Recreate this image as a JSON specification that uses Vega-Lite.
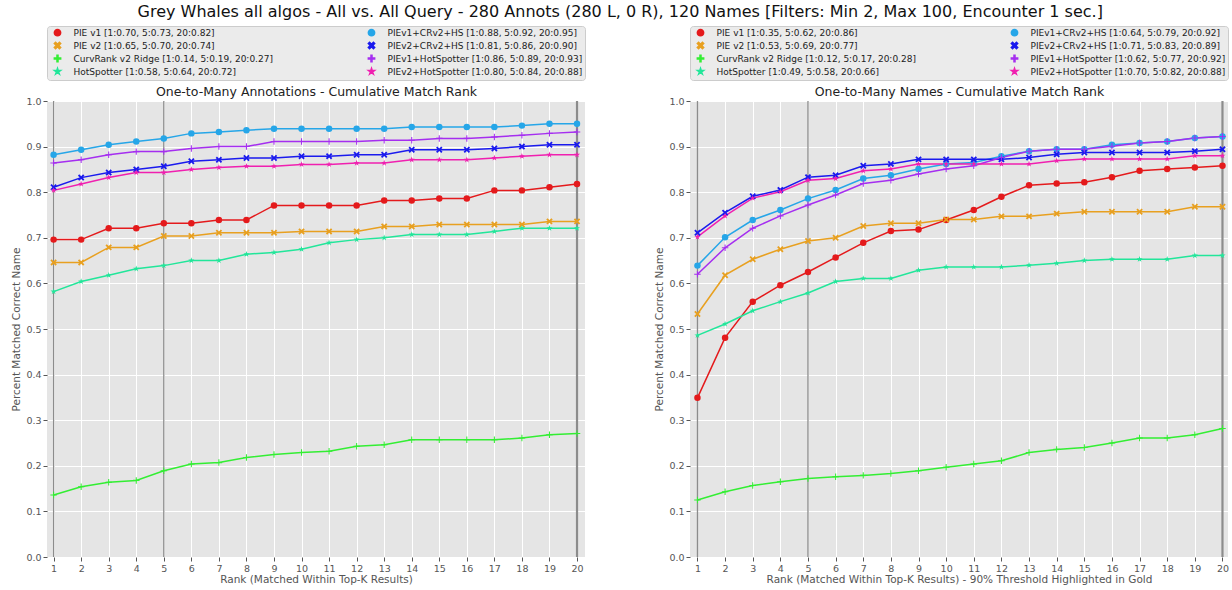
{
  "$schema": "https://vega.github.io/schema/vega-lite/v6.json",
  "padding": {"left": 11, "top": 3, "right": 0, "bottom": 2},
  "config": {
    "font": "DejaVu Sans",
    "view": {"fill": "#e5e5e5", "stroke": null},
    "axis": {"gridColor": "#ffffff", "gridWidth": 1, "domain": false, "tickColor": "#555555", "tickSize": 4, "labelColor": "#555555", "labelFontSize": 9.5, "titleColor": "#555555", "titleFontSize": 10.5, "titleFontWeight": "normal", "labelPadding": 2},
    "legend": {"orient": "top", "columns": 2, "columnPadding": 90, "rowPadding": 0, "labelFontSize": 9, "labelColor": "#222222", "symbolSize": 40, "fillColor": "#ebebeb", "strokeColor": "#cccccc", "padding": 2, "offset": 5, "labelLimit": 400, "cornerRadius": 3, "labelOffset": 11.5, "symbolOffset": 4},
    "title": {"fontWeight": "normal"}
  },
  "title": {"text": "Grey Whales all algos - All vs. All Query - 280 Annots (280 L, 0 R), 120 Names [Filters: Min 2, Max 100, Encounter 1 sec.]", "fontSize": 16, "color": "#111111", "anchor": "middle", "offset": 6},
  "datasets": {
    "vlines": [{"rank": 1}, {"rank": 5}, {"rank": 20}],
    "ann": [
      {"algo": "PIE v1", "rank": 1, "v": 0.696}, {"algo": "PIE v1", "rank": 2, "v": 0.696}, {"algo": "PIE v1", "rank": 3, "v": 0.721}, {"algo": "PIE v1", "rank": 4, "v": 0.721}, {"algo": "PIE v1", "rank": 5, "v": 0.732}, {"algo": "PIE v1", "rank": 6, "v": 0.732}, {"algo": "PIE v1", "rank": 7, "v": 0.739}, {"algo": "PIE v1", "rank": 8, "v": 0.739}, {"algo": "PIE v1", "rank": 9, "v": 0.771}, {"algo": "PIE v1", "rank": 10, "v": 0.771}, {"algo": "PIE v1", "rank": 11, "v": 0.771}, {"algo": "PIE v1", "rank": 12, "v": 0.771}, {"algo": "PIE v1", "rank": 13, "v": 0.782}, {"algo": "PIE v1", "rank": 14, "v": 0.782}, {"algo": "PIE v1", "rank": 15, "v": 0.786}, {"algo": "PIE v1", "rank": 16, "v": 0.786}, {"algo": "PIE v1", "rank": 17, "v": 0.804}, {"algo": "PIE v1", "rank": 18, "v": 0.804}, {"algo": "PIE v1", "rank": 19, "v": 0.811}, {"algo": "PIE v1", "rank": 20, "v": 0.818},
      {"algo": "PIE v2", "rank": 1, "v": 0.646}, {"algo": "PIE v2", "rank": 2, "v": 0.646}, {"algo": "PIE v2", "rank": 3, "v": 0.679}, {"algo": "PIE v2", "rank": 4, "v": 0.679}, {"algo": "PIE v2", "rank": 5, "v": 0.704}, {"algo": "PIE v2", "rank": 6, "v": 0.704}, {"algo": "PIE v2", "rank": 7, "v": 0.711}, {"algo": "PIE v2", "rank": 8, "v": 0.711}, {"algo": "PIE v2", "rank": 9, "v": 0.711}, {"algo": "PIE v2", "rank": 10, "v": 0.714}, {"algo": "PIE v2", "rank": 11, "v": 0.714}, {"algo": "PIE v2", "rank": 12, "v": 0.714}, {"algo": "PIE v2", "rank": 13, "v": 0.725}, {"algo": "PIE v2", "rank": 14, "v": 0.725}, {"algo": "PIE v2", "rank": 15, "v": 0.729}, {"algo": "PIE v2", "rank": 16, "v": 0.729}, {"algo": "PIE v2", "rank": 17, "v": 0.729}, {"algo": "PIE v2", "rank": 18, "v": 0.729}, {"algo": "PIE v2", "rank": 19, "v": 0.736}, {"algo": "PIE v2", "rank": 20, "v": 0.736},
      {"algo": "CurvRank v2 Ridge", "rank": 1, "v": 0.136}, {"algo": "CurvRank v2 Ridge", "rank": 2, "v": 0.154}, {"algo": "CurvRank v2 Ridge", "rank": 3, "v": 0.164}, {"algo": "CurvRank v2 Ridge", "rank": 4, "v": 0.168}, {"algo": "CurvRank v2 Ridge", "rank": 5, "v": 0.189}, {"algo": "CurvRank v2 Ridge", "rank": 6, "v": 0.204}, {"algo": "CurvRank v2 Ridge", "rank": 7, "v": 0.207}, {"algo": "CurvRank v2 Ridge", "rank": 8, "v": 0.218}, {"algo": "CurvRank v2 Ridge", "rank": 9, "v": 0.225}, {"algo": "CurvRank v2 Ridge", "rank": 10, "v": 0.229}, {"algo": "CurvRank v2 Ridge", "rank": 11, "v": 0.232}, {"algo": "CurvRank v2 Ridge", "rank": 12, "v": 0.243}, {"algo": "CurvRank v2 Ridge", "rank": 13, "v": 0.246}, {"algo": "CurvRank v2 Ridge", "rank": 14, "v": 0.257}, {"algo": "CurvRank v2 Ridge", "rank": 15, "v": 0.257}, {"algo": "CurvRank v2 Ridge", "rank": 16, "v": 0.257}, {"algo": "CurvRank v2 Ridge", "rank": 17, "v": 0.257}, {"algo": "CurvRank v2 Ridge", "rank": 18, "v": 0.261}, {"algo": "CurvRank v2 Ridge", "rank": 19, "v": 0.268}, {"algo": "CurvRank v2 Ridge", "rank": 20, "v": 0.271},
      {"algo": "HotSpotter", "rank": 1, "v": 0.582}, {"algo": "HotSpotter", "rank": 2, "v": 0.604}, {"algo": "HotSpotter", "rank": 3, "v": 0.618}, {"algo": "HotSpotter", "rank": 4, "v": 0.632}, {"algo": "HotSpotter", "rank": 5, "v": 0.639}, {"algo": "HotSpotter", "rank": 6, "v": 0.65}, {"algo": "HotSpotter", "rank": 7, "v": 0.65}, {"algo": "HotSpotter", "rank": 8, "v": 0.664}, {"algo": "HotSpotter", "rank": 9, "v": 0.668}, {"algo": "HotSpotter", "rank": 10, "v": 0.675}, {"algo": "HotSpotter", "rank": 11, "v": 0.689}, {"algo": "HotSpotter", "rank": 12, "v": 0.696}, {"algo": "HotSpotter", "rank": 13, "v": 0.7}, {"algo": "HotSpotter", "rank": 14, "v": 0.707}, {"algo": "HotSpotter", "rank": 15, "v": 0.707}, {"algo": "HotSpotter", "rank": 16, "v": 0.707}, {"algo": "HotSpotter", "rank": 17, "v": 0.714}, {"algo": "HotSpotter", "rank": 18, "v": 0.721}, {"algo": "HotSpotter", "rank": 19, "v": 0.721}, {"algo": "HotSpotter", "rank": 20, "v": 0.721},
      {"algo": "PIEv1+CRv2+HS", "rank": 1, "v": 0.882}, {"algo": "PIEv1+CRv2+HS", "rank": 2, "v": 0.893}, {"algo": "PIEv1+CRv2+HS", "rank": 3, "v": 0.904}, {"algo": "PIEv1+CRv2+HS", "rank": 4, "v": 0.911}, {"algo": "PIEv1+CRv2+HS", "rank": 5, "v": 0.918}, {"algo": "PIEv1+CRv2+HS", "rank": 6, "v": 0.929}, {"algo": "PIEv1+CRv2+HS", "rank": 7, "v": 0.932}, {"algo": "PIEv1+CRv2+HS", "rank": 8, "v": 0.936}, {"algo": "PIEv1+CRv2+HS", "rank": 9, "v": 0.939}, {"algo": "PIEv1+CRv2+HS", "rank": 10, "v": 0.939}, {"algo": "PIEv1+CRv2+HS", "rank": 11, "v": 0.939}, {"algo": "PIEv1+CRv2+HS", "rank": 12, "v": 0.939}, {"algo": "PIEv1+CRv2+HS", "rank": 13, "v": 0.939}, {"algo": "PIEv1+CRv2+HS", "rank": 14, "v": 0.943}, {"algo": "PIEv1+CRv2+HS", "rank": 15, "v": 0.943}, {"algo": "PIEv1+CRv2+HS", "rank": 16, "v": 0.943}, {"algo": "PIEv1+CRv2+HS", "rank": 17, "v": 0.943}, {"algo": "PIEv1+CRv2+HS", "rank": 18, "v": 0.946}, {"algo": "PIEv1+CRv2+HS", "rank": 19, "v": 0.95}, {"algo": "PIEv1+CRv2+HS", "rank": 20, "v": 0.95},
      {"algo": "PIEv2+CRv2+HS", "rank": 1, "v": 0.811}, {"algo": "PIEv2+CRv2+HS", "rank": 2, "v": 0.832}, {"algo": "PIEv2+CRv2+HS", "rank": 3, "v": 0.843}, {"algo": "PIEv2+CRv2+HS", "rank": 4, "v": 0.85}, {"algo": "PIEv2+CRv2+HS", "rank": 5, "v": 0.857}, {"algo": "PIEv2+CRv2+HS", "rank": 6, "v": 0.868}, {"algo": "PIEv2+CRv2+HS", "rank": 7, "v": 0.871}, {"algo": "PIEv2+CRv2+HS", "rank": 8, "v": 0.875}, {"algo": "PIEv2+CRv2+HS", "rank": 9, "v": 0.875}, {"algo": "PIEv2+CRv2+HS", "rank": 10, "v": 0.879}, {"algo": "PIEv2+CRv2+HS", "rank": 11, "v": 0.879}, {"algo": "PIEv2+CRv2+HS", "rank": 12, "v": 0.882}, {"algo": "PIEv2+CRv2+HS", "rank": 13, "v": 0.882}, {"algo": "PIEv2+CRv2+HS", "rank": 14, "v": 0.893}, {"algo": "PIEv2+CRv2+HS", "rank": 15, "v": 0.893}, {"algo": "PIEv2+CRv2+HS", "rank": 16, "v": 0.893}, {"algo": "PIEv2+CRv2+HS", "rank": 17, "v": 0.896}, {"algo": "PIEv2+CRv2+HS", "rank": 18, "v": 0.9}, {"algo": "PIEv2+CRv2+HS", "rank": 19, "v": 0.904}, {"algo": "PIEv2+CRv2+HS", "rank": 20, "v": 0.904},
      {"algo": "PIEv1+HotSpotter", "rank": 1, "v": 0.864}, {"algo": "PIEv1+HotSpotter", "rank": 2, "v": 0.871}, {"algo": "PIEv1+HotSpotter", "rank": 3, "v": 0.882}, {"algo": "PIEv1+HotSpotter", "rank": 4, "v": 0.889}, {"algo": "PIEv1+HotSpotter", "rank": 5, "v": 0.889}, {"algo": "PIEv1+HotSpotter", "rank": 6, "v": 0.896}, {"algo": "PIEv1+HotSpotter", "rank": 7, "v": 0.9}, {"algo": "PIEv1+HotSpotter", "rank": 8, "v": 0.9}, {"algo": "PIEv1+HotSpotter", "rank": 9, "v": 0.911}, {"algo": "PIEv1+HotSpotter", "rank": 10, "v": 0.911}, {"algo": "PIEv1+HotSpotter", "rank": 11, "v": 0.911}, {"algo": "PIEv1+HotSpotter", "rank": 12, "v": 0.911}, {"algo": "PIEv1+HotSpotter", "rank": 13, "v": 0.914}, {"algo": "PIEv1+HotSpotter", "rank": 14, "v": 0.914}, {"algo": "PIEv1+HotSpotter", "rank": 15, "v": 0.918}, {"algo": "PIEv1+HotSpotter", "rank": 16, "v": 0.918}, {"algo": "PIEv1+HotSpotter", "rank": 17, "v": 0.921}, {"algo": "PIEv1+HotSpotter", "rank": 18, "v": 0.925}, {"algo": "PIEv1+HotSpotter", "rank": 19, "v": 0.929}, {"algo": "PIEv1+HotSpotter", "rank": 20, "v": 0.932},
      {"algo": "PIEv2+HotSpotter", "rank": 1, "v": 0.804}, {"algo": "PIEv2+HotSpotter", "rank": 2, "v": 0.818}, {"algo": "PIEv2+HotSpotter", "rank": 3, "v": 0.832}, {"algo": "PIEv2+HotSpotter", "rank": 4, "v": 0.843}, {"algo": "PIEv2+HotSpotter", "rank": 5, "v": 0.843}, {"algo": "PIEv2+HotSpotter", "rank": 6, "v": 0.85}, {"algo": "PIEv2+HotSpotter", "rank": 7, "v": 0.854}, {"algo": "PIEv2+HotSpotter", "rank": 8, "v": 0.857}, {"algo": "PIEv2+HotSpotter", "rank": 9, "v": 0.857}, {"algo": "PIEv2+HotSpotter", "rank": 10, "v": 0.861}, {"algo": "PIEv2+HotSpotter", "rank": 11, "v": 0.861}, {"algo": "PIEv2+HotSpotter", "rank": 12, "v": 0.864}, {"algo": "PIEv2+HotSpotter", "rank": 13, "v": 0.864}, {"algo": "PIEv2+HotSpotter", "rank": 14, "v": 0.871}, {"algo": "PIEv2+HotSpotter", "rank": 15, "v": 0.871}, {"algo": "PIEv2+HotSpotter", "rank": 16, "v": 0.871}, {"algo": "PIEv2+HotSpotter", "rank": 17, "v": 0.875}, {"algo": "PIEv2+HotSpotter", "rank": 18, "v": 0.879}, {"algo": "PIEv2+HotSpotter", "rank": 19, "v": 0.882}, {"algo": "PIEv2+HotSpotter", "rank": 20, "v": 0.882}
    ],
    "names": [
      {"algo": "PIE v1", "rank": 1, "v": 0.349}, {"algo": "PIE v1", "rank": 2, "v": 0.481}, {"algo": "PIE v1", "rank": 3, "v": 0.56}, {"algo": "PIE v1", "rank": 4, "v": 0.596}, {"algo": "PIE v1", "rank": 5, "v": 0.625}, {"algo": "PIE v1", "rank": 6, "v": 0.657}, {"algo": "PIE v1", "rank": 7, "v": 0.689}, {"algo": "PIE v1", "rank": 8, "v": 0.715}, {"algo": "PIE v1", "rank": 9, "v": 0.718}, {"algo": "PIE v1", "rank": 10, "v": 0.739}, {"algo": "PIE v1", "rank": 11, "v": 0.761}, {"algo": "PIE v1", "rank": 12, "v": 0.79}, {"algo": "PIE v1", "rank": 13, "v": 0.815}, {"algo": "PIE v1", "rank": 14, "v": 0.819}, {"algo": "PIE v1", "rank": 15, "v": 0.822}, {"algo": "PIE v1", "rank": 16, "v": 0.833}, {"algo": "PIE v1", "rank": 17, "v": 0.847}, {"algo": "PIE v1", "rank": 18, "v": 0.851}, {"algo": "PIE v1", "rank": 19, "v": 0.854}, {"algo": "PIE v1", "rank": 20, "v": 0.858},
      {"algo": "PIE v2", "rank": 1, "v": 0.533}, {"algo": "PIE v2", "rank": 2, "v": 0.618}, {"algo": "PIE v2", "rank": 3, "v": 0.653}, {"algo": "PIE v2", "rank": 4, "v": 0.675}, {"algo": "PIE v2", "rank": 5, "v": 0.693}, {"algo": "PIE v2", "rank": 6, "v": 0.7}, {"algo": "PIE v2", "rank": 7, "v": 0.726}, {"algo": "PIE v2", "rank": 8, "v": 0.732}, {"algo": "PIE v2", "rank": 9, "v": 0.732}, {"algo": "PIE v2", "rank": 10, "v": 0.74}, {"algo": "PIE v2", "rank": 11, "v": 0.74}, {"algo": "PIE v2", "rank": 12, "v": 0.747}, {"algo": "PIE v2", "rank": 13, "v": 0.747}, {"algo": "PIE v2", "rank": 14, "v": 0.753}, {"algo": "PIE v2", "rank": 15, "v": 0.757}, {"algo": "PIE v2", "rank": 16, "v": 0.757}, {"algo": "PIE v2", "rank": 17, "v": 0.757}, {"algo": "PIE v2", "rank": 18, "v": 0.757}, {"algo": "PIE v2", "rank": 19, "v": 0.768}, {"algo": "PIE v2", "rank": 20, "v": 0.768},
      {"algo": "CurvRank v2 Ridge", "rank": 1, "v": 0.125}, {"algo": "CurvRank v2 Ridge", "rank": 2, "v": 0.143}, {"algo": "CurvRank v2 Ridge", "rank": 3, "v": 0.157}, {"algo": "CurvRank v2 Ridge", "rank": 4, "v": 0.165}, {"algo": "CurvRank v2 Ridge", "rank": 5, "v": 0.172}, {"algo": "CurvRank v2 Ridge", "rank": 6, "v": 0.176}, {"algo": "CurvRank v2 Ridge", "rank": 7, "v": 0.179}, {"algo": "CurvRank v2 Ridge", "rank": 8, "v": 0.183}, {"algo": "CurvRank v2 Ridge", "rank": 9, "v": 0.189}, {"algo": "CurvRank v2 Ridge", "rank": 10, "v": 0.197}, {"algo": "CurvRank v2 Ridge", "rank": 11, "v": 0.204}, {"algo": "CurvRank v2 Ridge", "rank": 12, "v": 0.211}, {"algo": "CurvRank v2 Ridge", "rank": 13, "v": 0.229}, {"algo": "CurvRank v2 Ridge", "rank": 14, "v": 0.236}, {"algo": "CurvRank v2 Ridge", "rank": 15, "v": 0.24}, {"algo": "CurvRank v2 Ridge", "rank": 16, "v": 0.25}, {"algo": "CurvRank v2 Ridge", "rank": 17, "v": 0.261}, {"algo": "CurvRank v2 Ridge", "rank": 18, "v": 0.261}, {"algo": "CurvRank v2 Ridge", "rank": 19, "v": 0.268}, {"algo": "CurvRank v2 Ridge", "rank": 20, "v": 0.282},
      {"algo": "HotSpotter", "rank": 1, "v": 0.486}, {"algo": "HotSpotter", "rank": 2, "v": 0.511}, {"algo": "HotSpotter", "rank": 3, "v": 0.54}, {"algo": "HotSpotter", "rank": 4, "v": 0.56}, {"algo": "HotSpotter", "rank": 5, "v": 0.579}, {"algo": "HotSpotter", "rank": 6, "v": 0.604}, {"algo": "HotSpotter", "rank": 7, "v": 0.611}, {"algo": "HotSpotter", "rank": 8, "v": 0.611}, {"algo": "HotSpotter", "rank": 9, "v": 0.629}, {"algo": "HotSpotter", "rank": 10, "v": 0.636}, {"algo": "HotSpotter", "rank": 11, "v": 0.636}, {"algo": "HotSpotter", "rank": 12, "v": 0.636}, {"algo": "HotSpotter", "rank": 13, "v": 0.64}, {"algo": "HotSpotter", "rank": 14, "v": 0.644}, {"algo": "HotSpotter", "rank": 15, "v": 0.65}, {"algo": "HotSpotter", "rank": 16, "v": 0.653}, {"algo": "HotSpotter", "rank": 17, "v": 0.653}, {"algo": "HotSpotter", "rank": 18, "v": 0.653}, {"algo": "HotSpotter", "rank": 19, "v": 0.661}, {"algo": "HotSpotter", "rank": 20, "v": 0.661},
      {"algo": "PIEv1+CRv2+HS", "rank": 1, "v": 0.639}, {"algo": "PIEv1+CRv2+HS", "rank": 2, "v": 0.701}, {"algo": "PIEv1+CRv2+HS", "rank": 3, "v": 0.739}, {"algo": "PIEv1+CRv2+HS", "rank": 4, "v": 0.761}, {"algo": "PIEv1+CRv2+HS", "rank": 5, "v": 0.786}, {"algo": "PIEv1+CRv2+HS", "rank": 6, "v": 0.805}, {"algo": "PIEv1+CRv2+HS", "rank": 7, "v": 0.83}, {"algo": "PIEv1+CRv2+HS", "rank": 8, "v": 0.837}, {"algo": "PIEv1+CRv2+HS", "rank": 9, "v": 0.851}, {"algo": "PIEv1+CRv2+HS", "rank": 10, "v": 0.862}, {"algo": "PIEv1+CRv2+HS", "rank": 11, "v": 0.865}, {"algo": "PIEv1+CRv2+HS", "rank": 12, "v": 0.879}, {"algo": "PIEv1+CRv2+HS", "rank": 13, "v": 0.89}, {"algo": "PIEv1+CRv2+HS", "rank": 14, "v": 0.894}, {"algo": "PIEv1+CRv2+HS", "rank": 15, "v": 0.894}, {"algo": "PIEv1+CRv2+HS", "rank": 16, "v": 0.904}, {"algo": "PIEv1+CRv2+HS", "rank": 17, "v": 0.908}, {"algo": "PIEv1+CRv2+HS", "rank": 18, "v": 0.911}, {"algo": "PIEv1+CRv2+HS", "rank": 19, "v": 0.919}, {"algo": "PIEv1+CRv2+HS", "rank": 20, "v": 0.922},
      {"algo": "PIEv2+CRv2+HS", "rank": 1, "v": 0.711}, {"algo": "PIEv2+CRv2+HS", "rank": 2, "v": 0.755}, {"algo": "PIEv2+CRv2+HS", "rank": 3, "v": 0.791}, {"algo": "PIEv2+CRv2+HS", "rank": 4, "v": 0.805}, {"algo": "PIEv2+CRv2+HS", "rank": 5, "v": 0.833}, {"algo": "PIEv2+CRv2+HS", "rank": 6, "v": 0.837}, {"algo": "PIEv2+CRv2+HS", "rank": 7, "v": 0.858}, {"algo": "PIEv2+CRv2+HS", "rank": 8, "v": 0.862}, {"algo": "PIEv2+CRv2+HS", "rank": 9, "v": 0.872}, {"algo": "PIEv2+CRv2+HS", "rank": 10, "v": 0.872}, {"algo": "PIEv2+CRv2+HS", "rank": 11, "v": 0.872}, {"algo": "PIEv2+CRv2+HS", "rank": 12, "v": 0.872}, {"algo": "PIEv2+CRv2+HS", "rank": 13, "v": 0.876}, {"algo": "PIEv2+CRv2+HS", "rank": 14, "v": 0.883}, {"algo": "PIEv2+CRv2+HS", "rank": 15, "v": 0.887}, {"algo": "PIEv2+CRv2+HS", "rank": 16, "v": 0.887}, {"algo": "PIEv2+CRv2+HS", "rank": 17, "v": 0.887}, {"algo": "PIEv2+CRv2+HS", "rank": 18, "v": 0.887}, {"algo": "PIEv2+CRv2+HS", "rank": 19, "v": 0.89}, {"algo": "PIEv2+CRv2+HS", "rank": 20, "v": 0.894},
      {"algo": "PIEv1+HotSpotter", "rank": 1, "v": 0.62}, {"algo": "PIEv1+HotSpotter", "rank": 2, "v": 0.678}, {"algo": "PIEv1+HotSpotter", "rank": 3, "v": 0.721}, {"algo": "PIEv1+HotSpotter", "rank": 4, "v": 0.748}, {"algo": "PIEv1+HotSpotter", "rank": 5, "v": 0.772}, {"algo": "PIEv1+HotSpotter", "rank": 6, "v": 0.794}, {"algo": "PIEv1+HotSpotter", "rank": 7, "v": 0.819}, {"algo": "PIEv1+HotSpotter", "rank": 8, "v": 0.826}, {"algo": "PIEv1+HotSpotter", "rank": 9, "v": 0.84}, {"algo": "PIEv1+HotSpotter", "rank": 10, "v": 0.851}, {"algo": "PIEv1+HotSpotter", "rank": 11, "v": 0.858}, {"algo": "PIEv1+HotSpotter", "rank": 12, "v": 0.876}, {"algo": "PIEv1+HotSpotter", "rank": 13, "v": 0.89}, {"algo": "PIEv1+HotSpotter", "rank": 14, "v": 0.894}, {"algo": "PIEv1+HotSpotter", "rank": 15, "v": 0.894}, {"algo": "PIEv1+HotSpotter", "rank": 16, "v": 0.901}, {"algo": "PIEv1+HotSpotter", "rank": 17, "v": 0.908}, {"algo": "PIEv1+HotSpotter", "rank": 18, "v": 0.911}, {"algo": "PIEv1+HotSpotter", "rank": 19, "v": 0.919}, {"algo": "PIEv1+HotSpotter", "rank": 20, "v": 0.922},
      {"algo": "PIEv2+HotSpotter", "rank": 1, "v": 0.702}, {"algo": "PIEv2+HotSpotter", "rank": 2, "v": 0.748}, {"algo": "PIEv2+HotSpotter", "rank": 3, "v": 0.787}, {"algo": "PIEv2+HotSpotter", "rank": 4, "v": 0.801}, {"algo": "PIEv2+HotSpotter", "rank": 5, "v": 0.826}, {"algo": "PIEv2+HotSpotter", "rank": 6, "v": 0.83}, {"algo": "PIEv2+HotSpotter", "rank": 7, "v": 0.847}, {"algo": "PIEv2+HotSpotter", "rank": 8, "v": 0.851}, {"algo": "PIEv2+HotSpotter", "rank": 9, "v": 0.862}, {"algo": "PIEv2+HotSpotter", "rank": 10, "v": 0.862}, {"algo": "PIEv2+HotSpotter", "rank": 11, "v": 0.862}, {"algo": "PIEv2+HotSpotter", "rank": 12, "v": 0.862}, {"algo": "PIEv2+HotSpotter", "rank": 13, "v": 0.862}, {"algo": "PIEv2+HotSpotter", "rank": 14, "v": 0.869}, {"algo": "PIEv2+HotSpotter", "rank": 15, "v": 0.873}, {"algo": "PIEv2+HotSpotter", "rank": 16, "v": 0.873}, {"algo": "PIEv2+HotSpotter", "rank": 17, "v": 0.873}, {"algo": "PIEv2+HotSpotter", "rank": 18, "v": 0.873}, {"algo": "PIEv2+HotSpotter", "rank": 19, "v": 0.88}, {"algo": "PIEv2+HotSpotter", "rank": 20, "v": 0.88}
    ]
  },
  "spacing": 68,
  "resolve": {"scale": {"color": "independent", "shape": "independent"}, "legend": {"color": "independent", "shape": "independent"}},
  "hconcat": [
    {
      "width": 538,
      "height": 456,
      "data": {"name": "ann"},
      "layer": [
        {
          "data": {"name": "vlines"},
          "transform": [{"filter": "datum.rank < 20"}],
          "mark": {"type": "rule", "color": "#8c8c8c", "strokeWidth": 1.3},
          "encoding": {"x": {"field": "rank", "type": "quantitative", "scale": {"domain": [0.76, 20.29], "nice": false, "zero": false}, "axis": {"orient": "top", "title": "One-to-Many Annotations - Cumulative Match Rank", "labels": false, "ticks": false, "domain": false, "grid": false, "titleFontSize": 12.5, "titleColor": "#222222", "titlePadding": 3}}}
        },
        {
          "data": {"name": "vlines"},
          "transform": [{"filter": "datum.rank == 20"}],
          "mark": {"type": "rule", "color": "#8c8c8c", "strokeWidth": 2.2},
          "encoding": {"x": {"field": "rank", "type": "quantitative", "scale": {"domain": [0.76, 20.29], "nice": false, "zero": false}, "axis": null}}
        },
        {
          "mark": {"type": "line", "strokeWidth": 1.5},
          "encoding": {
            "x": {"field": "rank", "type": "quantitative", "scale": {"domain": [0.76, 20.29], "nice": false, "zero": false}, "axis": {"orient": "bottom", "values": [1,2,3,4,5,6,7,8,9,10,11,12,13,14,15,16,17,18,19,20], "format": "d", "title": "Rank (Matched Within Top-K Results)", "grid": true, "titlePadding": 2}},
            "y": {"field": "v", "type": "quantitative", "scale": {"domain": [0, 1], "nice": false}, "axis": {"values": [0, 0.1, 0.2, 0.3, 0.4, 0.5, 0.6, 0.7, 0.8, 0.9, 1.0], "format": ".1f", "title": "Percent Matched Correct Name", "grid": true}},
            "color": {"field": "algo", "type": "nominal", "title": null, "scale": {"domain": ["PIE v1", "PIEv1+CRv2+HS", "PIE v2", "PIEv2+CRv2+HS", "CurvRank v2 Ridge", "PIEv1+HotSpotter", "HotSpotter", "PIEv2+HotSpotter"], "range": ["#e41a1c", "#26a6e8", "#e8a020", "#1a1aee", "#33ee33", "#a52ef0", "#22e69a", "#f020b0"]}, "legend": {"labelExpr": "datum.label == 'PIE v1' ? 'PIE v1 [1:0.70, 5:0.73, 20:0.82]' : datum.label == 'PIE v2' ? 'PIE v2 [1:0.65, 5:0.70, 20:0.74]' : datum.label == 'CurvRank v2 Ridge' ? 'CurvRank v2 Ridge [1:0.14, 5:0.19, 20:0.27]' : datum.label == 'HotSpotter' ? 'HotSpotter [1:0.58, 5:0.64, 20:0.72]' : datum.label == 'PIEv1+CRv2+HS' ? 'PIEv1+CRv2+HS [1:0.88, 5:0.92, 20:0.95]' : datum.label == 'PIEv2+CRv2+HS' ? 'PIEv2+CRv2+HS [1:0.81, 5:0.86, 20:0.90]' : datum.label == 'PIEv1+HotSpotter' ? 'PIEv1+HotSpotter [1:0.86, 5:0.89, 20:0.93]' : 'PIEv2+HotSpotter [1:0.80, 5:0.84, 20:0.88]'"}}
          }
        },
        {
          "mark": {"type": "point", "filled": true, "size": 42, "opacity": 1},
          "encoding": {
            "x": {"field": "rank", "type": "quantitative", "scale": {"domain": [0.76, 20.29], "nice": false, "zero": false}, "axis": null},
            "y": {"field": "v", "type": "quantitative", "scale": {"domain": [0, 1], "nice": false}, "axis": {"values": [0, 0.1, 0.2, 0.3, 0.4, 0.5, 0.6, 0.7, 0.8, 0.9, 1.0], "format": ".1f", "title": "Percent Matched Correct Name", "grid": true}},
            "color": {"field": "algo", "type": "nominal", "title": null, "scale": {"domain": ["PIE v1", "PIEv1+CRv2+HS", "PIE v2", "PIEv2+CRv2+HS", "CurvRank v2 Ridge", "PIEv1+HotSpotter", "HotSpotter", "PIEv2+HotSpotter"], "range": ["#e41a1c", "#26a6e8", "#e8a020", "#1a1aee", "#33ee33", "#a52ef0", "#22e69a", "#f020b0"]}, "legend": {"labelExpr": "datum.label == 'PIE v1' ? 'PIE v1 [1:0.70, 5:0.73, 20:0.82]' : datum.label == 'PIE v2' ? 'PIE v2 [1:0.65, 5:0.70, 20:0.74]' : datum.label == 'CurvRank v2 Ridge' ? 'CurvRank v2 Ridge [1:0.14, 5:0.19, 20:0.27]' : datum.label == 'HotSpotter' ? 'HotSpotter [1:0.58, 5:0.64, 20:0.72]' : datum.label == 'PIEv1+CRv2+HS' ? 'PIEv1+CRv2+HS [1:0.88, 5:0.92, 20:0.95]' : datum.label == 'PIEv2+CRv2+HS' ? 'PIEv2+CRv2+HS [1:0.81, 5:0.86, 20:0.90]' : datum.label == 'PIEv1+HotSpotter' ? 'PIEv1+HotSpotter [1:0.86, 5:0.89, 20:0.93]' : 'PIEv2+HotSpotter [1:0.80, 5:0.84, 20:0.88]'"}},
            "shape": {"field": "algo", "type": "nominal", "title": null, "scale": {"domain": ["PIE v1", "PIEv1+CRv2+HS", "PIE v2", "PIEv2+CRv2+HS", "CurvRank v2 Ridge", "PIEv1+HotSpotter", "HotSpotter", "PIEv2+HotSpotter"], "range": ["circle", "circle", "M-1,-0.6L-0.6,-1L0,-0.4L0.6,-1L1,-0.6L0.4,0L1,0.6L0.6,1L0,0.4L-0.6,1L-1,0.6L-0.4,0Z", "M-1,-0.6L-0.6,-1L0,-0.4L0.6,-1L1,-0.6L0.4,0L1,0.6L0.6,1L0,0.4L-0.6,1L-1,0.6L-0.4,0Z", "M-1,-0.16H-0.16V-1H0.16V-0.16H1V0.16H0.16V1H-0.16V0.16H-1Z", "M-1,-0.16H-0.16V-1H0.16V-0.16H1V0.16H0.16V1H-0.16V0.16H-1Z", "M0,-1L0.225,-0.309L0.951,-0.309L0.363,0.118L0.588,0.809L0,0.382L-0.588,0.809L-0.363,0.118L-0.951,-0.309L-0.225,-0.309Z", "M0,-1L0.225,-0.309L0.951,-0.309L0.363,0.118L0.588,0.809L0,0.382L-0.588,0.809L-0.363,0.118L-0.951,-0.309L-0.225,-0.309Z"]}, "legend": {"labelExpr": "datum.label == 'PIE v1' ? 'PIE v1 [1:0.70, 5:0.73, 20:0.82]' : datum.label == 'PIE v2' ? 'PIE v2 [1:0.65, 5:0.70, 20:0.74]' : datum.label == 'CurvRank v2 Ridge' ? 'CurvRank v2 Ridge [1:0.14, 5:0.19, 20:0.27]' : datum.label == 'HotSpotter' ? 'HotSpotter [1:0.58, 5:0.64, 20:0.72]' : datum.label == 'PIEv1+CRv2+HS' ? 'PIEv1+CRv2+HS [1:0.88, 5:0.92, 20:0.95]' : datum.label == 'PIEv2+CRv2+HS' ? 'PIEv2+CRv2+HS [1:0.81, 5:0.86, 20:0.90]' : datum.label == 'PIEv1+HotSpotter' ? 'PIEv1+HotSpotter [1:0.86, 5:0.89, 20:0.93]' : 'PIEv2+HotSpotter [1:0.80, 5:0.84, 20:0.88]'"}}
          }
        }
      ],
      "resolve": {"axis": {"x": "independent"}}
    },
    {
      "width": 538,
      "height": 456,
      "data": {"name": "names"},
      "layer": [
        {
          "data": {"name": "vlines"},
          "transform": [{"filter": "datum.rank < 20"}],
          "mark": {"type": "rule", "color": "#8c8c8c", "strokeWidth": 1.3},
          "encoding": {"x": {"field": "rank", "type": "quantitative", "scale": {"domain": [0.73, 20.2], "nice": false, "zero": false}, "axis": {"orient": "top", "title": "One-to-Many Names - Cumulative Match Rank", "labels": false, "ticks": false, "domain": false, "grid": false, "titleFontSize": 12.5, "titleColor": "#222222", "titlePadding": 3}}}
        },
        {
          "data": {"name": "vlines"},
          "transform": [{"filter": "datum.rank == 20"}],
          "mark": {"type": "rule", "color": "#8c8c8c", "strokeWidth": 2.2},
          "encoding": {"x": {"field": "rank", "type": "quantitative", "scale": {"domain": [0.73, 20.2], "nice": false, "zero": false}, "axis": null}}
        },
        {
          "mark": {"type": "line", "strokeWidth": 1.5},
          "encoding": {
            "x": {"field": "rank", "type": "quantitative", "scale": {"domain": [0.73, 20.2], "nice": false, "zero": false}, "axis": {"orient": "bottom", "values": [1,2,3,4,5,6,7,8,9,10,11,12,13,14,15,16,17,18,19,20], "format": "d", "title": "Rank (Matched Within Top-K Results) - 90% Threshold Highlighted in Gold", "grid": true, "titlePadding": 2}},
            "y": {"field": "v", "type": "quantitative", "scale": {"domain": [0, 1], "nice": false}, "axis": {"values": [0, 0.1, 0.2, 0.3, 0.4, 0.5, 0.6, 0.7, 0.8, 0.9, 1.0], "format": ".1f", "title": "Percent Matched Correct Name", "grid": true}},
            "color": {"field": "algo", "type": "nominal", "title": null, "scale": {"domain": ["PIE v1", "PIEv1+CRv2+HS", "PIE v2", "PIEv2+CRv2+HS", "CurvRank v2 Ridge", "PIEv1+HotSpotter", "HotSpotter", "PIEv2+HotSpotter"], "range": ["#e41a1c", "#26a6e8", "#e8a020", "#1a1aee", "#33ee33", "#a52ef0", "#22e69a", "#f020b0"]}, "legend": {"labelExpr": "datum.label == 'PIE v1' ? 'PIE v1 [1:0.35, 5:0.62, 20:0.86]' : datum.label == 'PIE v2' ? 'PIE v2 [1:0.53, 5:0.69, 20:0.77]' : datum.label == 'CurvRank v2 Ridge' ? 'CurvRank v2 Ridge [1:0.12, 5:0.17, 20:0.28]' : datum.label == 'HotSpotter' ? 'HotSpotter [1:0.49, 5:0.58, 20:0.66]' : datum.label == 'PIEv1+CRv2+HS' ? 'PIEv1+CRv2+HS [1:0.64, 5:0.79, 20:0.92]' : datum.label == 'PIEv2+CRv2+HS' ? 'PIEv2+CRv2+HS [1:0.71, 5:0.83, 20:0.89]' : datum.label == 'PIEv1+HotSpotter' ? 'PIEv1+HotSpotter [1:0.62, 5:0.77, 20:0.92]' : 'PIEv2+HotSpotter [1:0.70, 5:0.82, 20:0.88]'"}}
          }
        },
        {
          "mark": {"type": "point", "filled": true, "size": 42, "opacity": 1},
          "encoding": {
            "x": {"field": "rank", "type": "quantitative", "scale": {"domain": [0.73, 20.2], "nice": false, "zero": false}, "axis": null},
            "y": {"field": "v", "type": "quantitative", "scale": {"domain": [0, 1], "nice": false}, "axis": {"values": [0, 0.1, 0.2, 0.3, 0.4, 0.5, 0.6, 0.7, 0.8, 0.9, 1.0], "format": ".1f", "title": "Percent Matched Correct Name", "grid": true}},
            "color": {"field": "algo", "type": "nominal", "title": null, "scale": {"domain": ["PIE v1", "PIEv1+CRv2+HS", "PIE v2", "PIEv2+CRv2+HS", "CurvRank v2 Ridge", "PIEv1+HotSpotter", "HotSpotter", "PIEv2+HotSpotter"], "range": ["#e41a1c", "#26a6e8", "#e8a020", "#1a1aee", "#33ee33", "#a52ef0", "#22e69a", "#f020b0"]}, "legend": {"labelExpr": "datum.label == 'PIE v1' ? 'PIE v1 [1:0.35, 5:0.62, 20:0.86]' : datum.label == 'PIE v2' ? 'PIE v2 [1:0.53, 5:0.69, 20:0.77]' : datum.label == 'CurvRank v2 Ridge' ? 'CurvRank v2 Ridge [1:0.12, 5:0.17, 20:0.28]' : datum.label == 'HotSpotter' ? 'HotSpotter [1:0.49, 5:0.58, 20:0.66]' : datum.label == 'PIEv1+CRv2+HS' ? 'PIEv1+CRv2+HS [1:0.64, 5:0.79, 20:0.92]' : datum.label == 'PIEv2+CRv2+HS' ? 'PIEv2+CRv2+HS [1:0.71, 5:0.83, 20:0.89]' : datum.label == 'PIEv1+HotSpotter' ? 'PIEv1+HotSpotter [1:0.62, 5:0.77, 20:0.92]' : 'PIEv2+HotSpotter [1:0.70, 5:0.82, 20:0.88]'"}},
            "shape": {"field": "algo", "type": "nominal", "title": null, "scale": {"domain": ["PIE v1", "PIEv1+CRv2+HS", "PIE v2", "PIEv2+CRv2+HS", "CurvRank v2 Ridge", "PIEv1+HotSpotter", "HotSpotter", "PIEv2+HotSpotter"], "range": ["circle", "circle", "M-1,-0.6L-0.6,-1L0,-0.4L0.6,-1L1,-0.6L0.4,0L1,0.6L0.6,1L0,0.4L-0.6,1L-1,0.6L-0.4,0Z", "M-1,-0.6L-0.6,-1L0,-0.4L0.6,-1L1,-0.6L0.4,0L1,0.6L0.6,1L0,0.4L-0.6,1L-1,0.6L-0.4,0Z", "M-1,-0.16H-0.16V-1H0.16V-0.16H1V0.16H0.16V1H-0.16V0.16H-1Z", "M-1,-0.16H-0.16V-1H0.16V-0.16H1V0.16H0.16V1H-0.16V0.16H-1Z", "M0,-1L0.225,-0.309L0.951,-0.309L0.363,0.118L0.588,0.809L0,0.382L-0.588,0.809L-0.363,0.118L-0.951,-0.309L-0.225,-0.309Z", "M0,-1L0.225,-0.309L0.951,-0.309L0.363,0.118L0.588,0.809L0,0.382L-0.588,0.809L-0.363,0.118L-0.951,-0.309L-0.225,-0.309Z"]}, "legend": {"labelExpr": "datum.label == 'PIE v1' ? 'PIE v1 [1:0.35, 5:0.62, 20:0.86]' : datum.label == 'PIE v2' ? 'PIE v2 [1:0.53, 5:0.69, 20:0.77]' : datum.label == 'CurvRank v2 Ridge' ? 'CurvRank v2 Ridge [1:0.12, 5:0.17, 20:0.28]' : datum.label == 'HotSpotter' ? 'HotSpotter [1:0.49, 5:0.58, 20:0.66]' : datum.label == 'PIEv1+CRv2+HS' ? 'PIEv1+CRv2+HS [1:0.64, 5:0.79, 20:0.92]' : datum.label == 'PIEv2+CRv2+HS' ? 'PIEv2+CRv2+HS [1:0.71, 5:0.83, 20:0.89]' : datum.label == 'PIEv1+HotSpotter' ? 'PIEv1+HotSpotter [1:0.62, 5:0.77, 20:0.92]' : 'PIEv2+HotSpotter [1:0.70, 5:0.82, 20:0.88]'"}}
          }
        }
      ],
      "resolve": {"axis": {"x": "independent"}}
    }
  ]
}
